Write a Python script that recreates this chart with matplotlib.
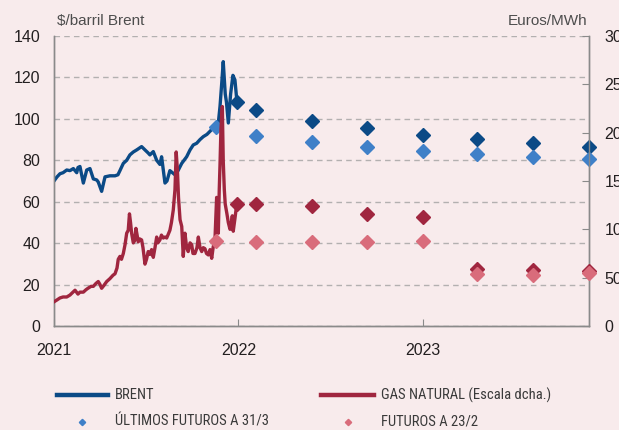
import matplotlib.pyplot as plt
from matplotlib.lines import Line2D
from matplotlib import font_manager

# ----------------------------
# Data
# x axis in months: 0 = "2021" tick, 12 = "2022", 24 = "2023"
# ----------------------------
brent_t = [0, 0.20, 0.39, 0.59, 0.83, 1.04, 1.26, 1.48, 1.56, 1.69,
           1.91, 2.13, 2.34, 2.56, 2.78, 2.88, 3.10, 3.32, 3.64, 3.97,
           4.16, 4.29, 4.51, 4.73, 4.94, 5.16, 5.38, 5.70, 5.92, 6.13,
           6.24, 6.46, 6.68, 6.89, 7.00, 7.22, 7.35, 7.54, 7.87, 8.07,
           8.31, 8.63, 8.85, 9.06, 9.28, 9.50, 9.71, 9.95, 10.15, 10.34,
           10.47, 10.69, 10.80, 10.91, 11.01, 11.14, 11.22, 11.34, 11.49, 11.64,
           11.77, 11.88, 11.99]
brent_usd = [70, 72, 73.5, 74, 75.3, 75, 76, 74, 76.5, 77,
             69, 75.3, 76, 71, 70.5, 69.5, 65, 72, 72.5, 72.5,
             73, 75, 78.5, 80, 82.6, 84, 85, 86.6, 85, 83.5,
             82.6, 84.2, 80, 78, 81.7, 69, 70, 75, 73, 75,
             78.5, 81.7, 85, 87.4, 88.2, 90, 91.4, 92.5, 94, 95.5,
             97, 98, 106, 117, 127.6, 112, 108, 98, 112, 121,
             118.8, 110, 107.5]

gas_t = [0, 0.20, 0.39, 0.59, 0.83, 1.04, 1.17, 1.37, 1.56, 1.69,
         1.91, 2.08, 2.21, 2.41, 2.56, 2.73, 2.88, 2.99, 3.10, 3.25,
         3.43, 3.64, 3.84, 3.97, 4.10, 4.18, 4.29, 4.39, 4.51, 4.62,
         4.73, 4.83, 4.91, 4.98, 5.05, 5.16, 5.24, 5.33, 5.43, 5.48,
         5.59, 5.70, 5.79, 5.92, 6.02, 6.13, 6.24, 6.35, 6.46, 6.57,
         6.68, 6.76, 6.89, 6.99, 7.11, 7.22, 7.33, 7.41, 7.54, 7.64,
         7.76, 7.87, 7.95, 8.03, 8.10, 8.20, 8.31, 8.41, 8.52, 8.63,
         8.73, 8.85, 8.96, 9.04, 9.17, 9.30, 9.39, 9.50, 9.61, 9.71,
         9.82, 9.92, 10.04, 10.15, 10.26, 10.36, 10.47, 10.58, 10.69, 10.75,
         10.80, 10.86, 10.95, 11.01, 11.08, 11.14, 11.25, 11.34, 11.45, 11.54,
         11.60, 11.66, 11.77, 11.88, 11.99]
gas_eur = [25, 27, 29, 30, 30, 32, 34, 37, 33, 35,
           35, 37.5, 39, 41, 41, 44, 46, 43, 39, 42,
           46, 49, 52.5, 54, 60, 69, 72, 69, 75, 84,
           96, 99, 116, 107, 96, 86, 88, 101, 92, 87,
           90, 89, 81, 64, 69, 77, 74, 79, 71, 81,
           92, 86, 89, 94, 91, 92, 91, 94, 99, 107,
           120, 141, 180, 161, 133, 110, 103, 72, 96, 81,
           77, 86, 84, 75, 75, 81, 92, 81, 77, 81,
           80, 75, 73.5, 79, 70, 82, 89, 133, 96, 141,
           167, 204, 227, 171, 141, 126, 116, 107, 100, 107,
           114, 98, 111, 125, 126]

# futures
fut_t_0323 = [11.92, 13.12, 16.76, 20.38, 24.02, 27.53, 31.17, 34.78]
fut_t_0223 = [10.52, 13.12, 16.76, 20.38, 24.02, 27.53, 31.17, 34.78]
brent_fut_0323 = [107.9, 104.3, 99.1, 95.4, 92.2, 90.3, 88.2, 86.6]
brent_fut_0223 = [96.2, 91.9, 88.7, 86.6, 84.5, 82.9, 81.7, 80.6]
gas_fut_0323 = [126, 126, 124, 116, 112.5, 59, 58, 57]
gas_fut_0223 = [88, 87, 87, 87, 88, 54, 53, 54.5]

year_ticks = [0, 12, 24]
year_labels = ["2021", "2022", "2023"]

# ----------------------------
# Style
# ----------------------------
BG = "#f8ebec"
DARK_BLUE = "#0b4a86"
LIGHT_BLUE = "#3f80c8"
DARK_RED = "#a0263f"
PINK = "#d96c7b"
GRID = "#b3b0b0"
SPINE = "#8a8a8a"
TXT = "#231f20"

plt.rcParams["font.family"] = ["Liberation Sans", "DejaVu Sans"]

# condensed face for the legend, if one is installed
installed = {f.name for f in font_manager.fontManager.ttflist}
narrow = [n for n in ("Liberation Sans Narrow", "Roboto Condensed",
                      "DejaVu Sans Condensed", "Open Sans Condensed",
                      "Noto Sans Condensed") if n in installed]
leg_font = narrow[:1] + ["Liberation Sans", "DejaVu Sans"]
leg_size = 10.5 if narrow else 9.0

fig = plt.figure(figsize=(6.19, 4.30), dpi=100, facecolor=BG)
ax = fig.add_axes([0.0872, 0.2419, 0.8643, 0.6744])
ax.set_facecolor(BG)
ax2 = ax.twinx()

# lines
ax.plot(brent_t, brent_usd, color=DARK_BLUE, lw=2.4, solid_joinstyle="round", zorder=3)
ax2.plot(gas_t, gas_eur, color=DARK_RED, lw=2.4, solid_joinstyle="round", zorder=3)

# futures markers
ax.plot(fut_t_0323, brent_fut_0323, ls="none", marker="D", ms=6.8,
        color=DARK_BLUE, clip_on=False, zorder=4)
ax.plot(fut_t_0223, brent_fut_0223, ls="none", marker="D", ms=6.8,
        color=LIGHT_BLUE, clip_on=False, zorder=4)
ax2.plot(fut_t_0323, gas_fut_0323, ls="none", marker="D", ms=6.8,
         color=DARK_RED, clip_on=False, zorder=4)
ax2.plot(fut_t_0223, gas_fut_0223, ls="none", marker="D", ms=6.8,
         color=PINK, clip_on=False, zorder=5)

# axes limits / ticks
ax.set_xlim(0, 34.8)
ax.set_ylim(0, 140)
ax2.set_ylim(0, 300)
ax.set_yticks(range(0, 141, 20))
ax2.set_yticks(range(0, 301, 50))
ax.set_xticks(year_ticks)
ax.set_xticklabels(year_labels)

ax.yaxis.grid(True, color=GRID, ls=(0, (4, 3)), lw=1.0)
ax.set_axisbelow(True)

for a in (ax, ax2):
    a.spines["top"].set_visible(False)
    for s in ("left", "right", "bottom"):
        a.spines[s].set_color(SPINE)
        a.spines[s].set_linewidth(1.0)

ax.tick_params(axis="y", length=0, pad=10, labelsize=11.5, labelcolor=TXT)
ax.tick_params(axis="x", direction="in", length=5, color=SPINE, pad=12,
               labelsize=11.5, labelcolor=TXT)
ax2.tick_params(axis="y", direction="in", length=5, color=SPINE, pad=11,
                labelsize=11.5, labelcolor=TXT)

# unit labels
fig.text(57 / 619, 1 - 25 / 430, "$/barril Brent", fontsize=11, color="#4d4d4d",
         ha="left", va="baseline")
fig.text(587 / 619, 1 - 25 / 430, "Euros/MWh", fontsize=11, color="#4d4d4d",
         ha="right", va="baseline")

# ----------------------------
# Legend (drawn by hand, 2 x 2)
# ----------------------------
row1, row2 = 1 - 395 / 430, 1 - 422 / 430
x_txt1, x_txt2 = 114.6 / 619, 381 / 619

fig.add_artist(Line2D([56.5 / 619, 108 / 619], [row1, row1], color=DARK_BLUE,
                      lw=3.2, transform=fig.transFigure))
fig.add_artist(Line2D([321 / 619, 373.5 / 619], [row1, row1], color=DARK_RED,
                      lw=3.2, transform=fig.transFigure))
fig.add_artist(Line2D([81.8 / 619], [row2], ls="none", marker="D", ms=3.2,
                      color=LIGHT_BLUE, transform=fig.transFigure))
fig.add_artist(Line2D([348 / 619], [row2], ls="none", marker="D", ms=3.2,
                      color=PINK, transform=fig.transFigure))

legend_labels = [("BRENT", x_txt1, row1),
                 ("GAS NATURAL (Escala dcha.)", x_txt2, row1),
                 ("ÚLTIMOS FUTUROS A 31/3", x_txt1, row2),
                 ("FUTUROS A 23/2", x_txt2, row2)]
for label, lx, ly in legend_labels:
    fig.text(lx, ly, label, family=leg_font, fontsize=leg_size, color="#3a3a3a",
             ha="left", va="center")

fig.savefig("out.png", dpi=100, facecolor=BG)
